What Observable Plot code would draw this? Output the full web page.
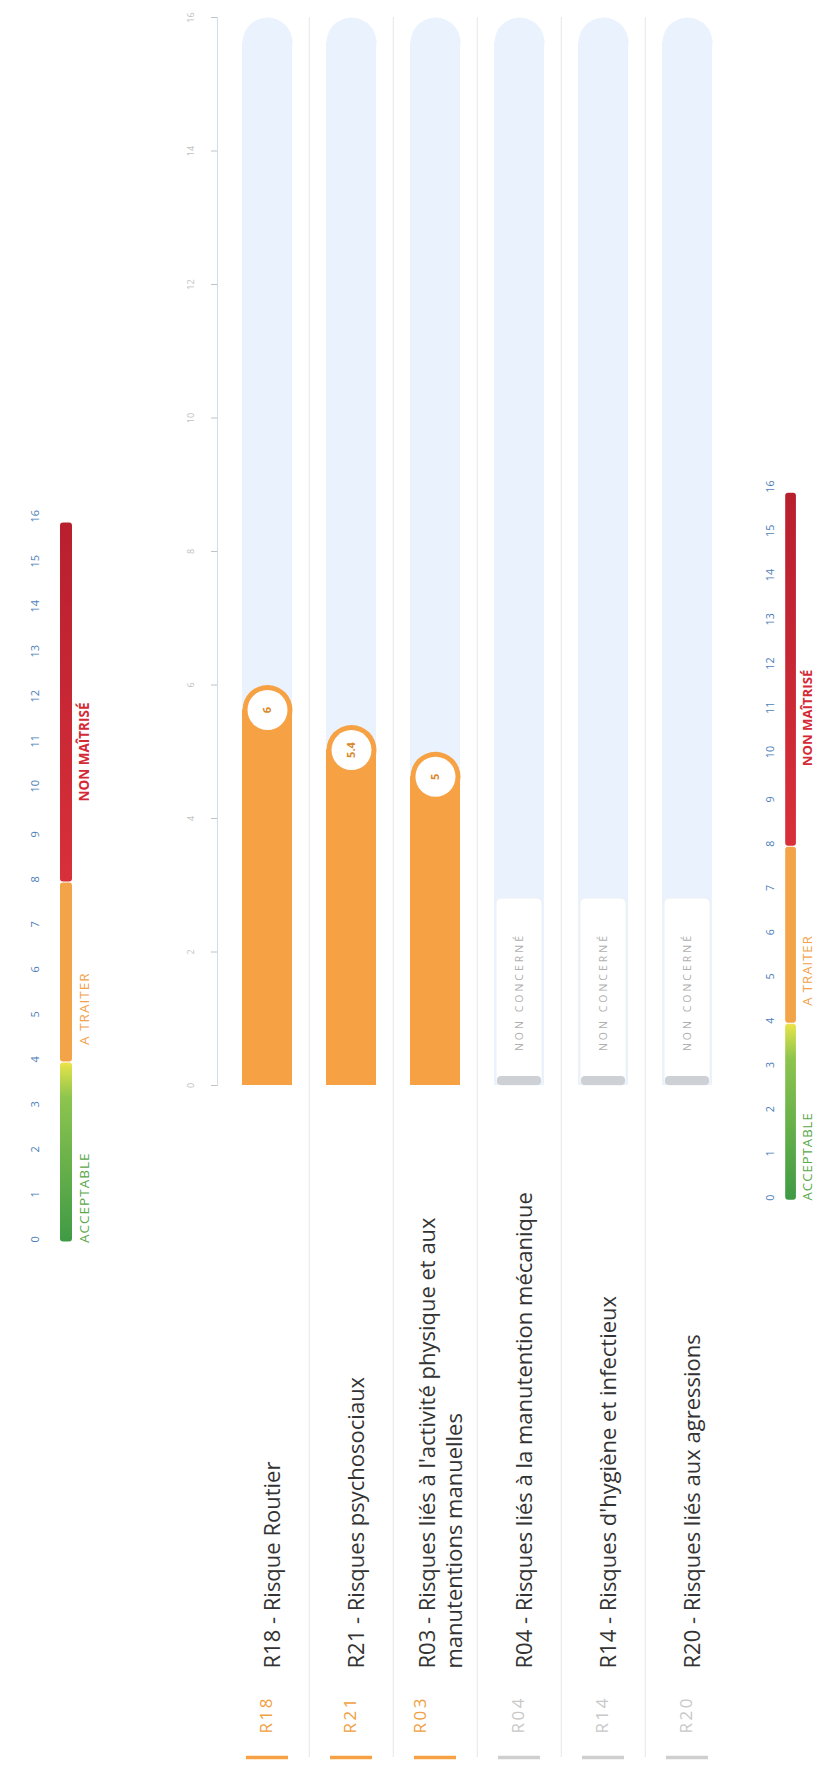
<!DOCTYPE html>
<html><head><meta charset="utf-8">
<script src="https://cdn.jsdelivr.net/npm/d3@7"></script>
<script src="https://cdn.jsdelivr.net/npm/@observablehq/plot@0.6"></script>
<style>
html,body{margin:0;padding:0;background:#fff;}
body{width:835px;height:1769px;position:relative;overflow:hidden;font-family:"Open Sans",sans-serif;}
.layer{position:absolute;left:0;top:0;}
</style></head><body>
<div id="main" class="layer"></div>
<div id="labels" class="layer" style="top:1085px"></div>
<div id="legL" class="layer"></div>
<div id="legR" class="layer"></div>
<script>
// ---- data ----
const codes = ["R18", "R21", "R03", "R04", "R14", "R20"];
const names = [
  "R18 - Risque Routier",
  "R21 - Risques psychosociaux",
  "R03 - Risques liés à l'activité physique et aux\nmanutentions manuelles",
  "R04 - Risques liés à la manutention mécanique",
  "R14 - Risques d'hygiène et infectieux",
  "R20 - Risques liés aux agressions"
];
const values = [6, 5.4, 5, null, null, null];
const valueLabels = ["6", "5.4", "5", "", "", ""];
const axisTicks = [0, 2, 4, 6, 8, 10, 12, 14, 16];
const axisMax = 16;
const legendTicks = [0,1,2,3,4,5,6,7,8,9,10,11,12,13,14,15,16];
const zoneFrom = [0, 4, 8];
const zoneTo = [4, 8, 16];
const zoneLabels = ["ACCEPTABLE", "A TRAITER", "NON MAÎTRISÉ"];
const nonConcerneLabel = "NON CONCERNÉ";
const ncBoxTop = 2.8;

// ---- styles ----
const ORANGE = "#f6a244";
const BG = "#eaf3fd";
const SEP = "#ebebeb";
const zoneColors = ["#5aa84a", "#f2a24a", "#d42a36"];
const zoneWeights = ["normal", "normal", "bold"];
const zoneFills = ["url(#gGreen)", "#f3a449", "url(#gRed)"];
const W = 835, H = 1769;
const xRange = [224, 730];
const step = (xRange[1] - xRange[0]) / codes.length;
const R = 25;
const FS = 22;      // category label font size
const LHt = 1.25;   // line height

const rows = codes.map((c, i) => ({
  code: c, name: names[i], value: values[i], vlabel: valueLabels[i],
  top: axisMax, ncTop: ncBoxTop, zero: 0,
  lines: names[i].split("\n").length, concerned: values[i] != null
}));
const yes = rows.filter(d => d.concerned);
const no = rows.filter(d => !d.concerned);
const padIn = 1 - 2 * R / step;
const xScale = {type: "band", domain: codes, range: xRange, paddingInner: padIn, paddingOuter: padIn / 2, axis: null};

const defsMark = () => {
  const g = document.createElementNS("http://www.w3.org/2000/svg", "defs");
  g.innerHTML = `
  <linearGradient id="gGreen" x1="0" y1="1" x2="0" y2="0">
    <stop offset="0" stop-color="#3f9a45"/><stop offset="0.8" stop-color="#8cc44e"/><stop offset="0.97" stop-color="#d9df4a"/><stop offset="1" stop-color="#f0e24a"/>
  </linearGradient>
  <linearGradient id="gRed" x1="0" y1="1" x2="0" y2="0">
    <stop offset="0" stop-color="#d8303a"/><stop offset="1" stop-color="#b81f2e"/>
  </linearGradient>`;
  return g;
};

// ---- main chart ----
const main = Plot.plot({
  width: W, height: H,
  marginTop: 17, marginBottom: H - 1085, marginLeft: 217, marginRight: W - xRange[1],
  style: {fontFamily: "Open Sans", background: "transparent"},
  x: xScale,
  y: {domain: [0, axisMax]},
  marks: [
    Plot.ruleX(codes.slice(1), {x: d => d, dx: -step / 2, stroke: SEP, strokeWidth: 1.2}),
    Plot.frame({anchor: "left", stroke: "#d4dce8"}),
    Plot.axisY({ticks: axisTicks, tickSize: 6, tickPadding: 18, tickRotate: -90, fontSize: 9, color: "#c2c2c2", tickFormat: d => String(d), label: null}),
    // background pills
    Plot.barY(rows, {x: "code", y: "top", fill: BG, insetTop: R}),
    Plot.dot(rows, {x: "code", y: "top", r: R, fill: BG, dy: R}),
    // non concerned
    Plot.barY(no, {x: "code", y: "ncTop", fill: "#ffffff", stroke: "#edf0f3", rx: 5, insetLeft: 2, insetRight: 2}),
    Plot.barY(no, {x: "code", y1: "zero", y2: "zero", insetTop: -9, insetLeft: 3, insetRight: 3, rx: 4, fill: "#cdd0d5"}),
    Plot.text(no, {x: "code", y: d => d.ncTop / 2, text: () => nonConcerneLabel, rotate: -90, fill: "#b0b0b0", fontSize: 10.5}),
    // concerned bars (pill: bar + cap)
    Plot.barY(yes, {x: "code", y: "value", fill: ORANGE, insetTop: R}),
    Plot.dot(yes, {x: "code", y: "value", r: R, fill: ORANGE, dy: R}),
    Plot.dot(yes, {x: "code", y: "value", r: R - 5, fill: "#ffffff", dy: R}),
    Plot.text(yes, {x: "code", y: "value", dy: R, text: "vlabel", rotate: -90, fill: "#d9892c", fontSize: 11, fontWeight: "bold"})
  ]
});
d3.select(main).selectAll("text").filter(function(){ return this.textContent === nonConcerneLabel; }).attr("letter-spacing", "3");
document.getElementById("main").appendChild(main);

// ---- category labels ----
const LH = 684;
const labels = Plot.plot({
  width: W, height: LH,
  marginTop: 0, marginBottom: 12, marginLeft: 217, marginRight: W - xRange[1],
  style: {fontFamily: "Open Sans", background: "transparent"},
  x: xScale,
  y: {domain: [0, 1], axis: null},
  marks: [
    Plot.ruleX(codes.slice(1), {x: d => d, dx: -step / 2, stroke: SEP, strokeWidth: 1.2}),
    Plot.tickY(rows, {x: "code", y: "zero", stroke: d => d.concerned ? ORANGE : "#cfcfcf", strokeWidth: 3.5, insetLeft: 4, insetRight: 4}),
    Plot.text(rows.filter(d => d.lines === 1), {x: "code", text: "code", frameAnchor: "bottom", dy: -24, dx: 4, rotate: -90, textAnchor: "start", fill: d => d.concerned ? "#f0a040" : "#c8c8c8", fontSize: 17}),
    Plot.text(rows.filter(d => d.lines === 2), {x: "code", text: "code", frameAnchor: "bottom", dy: -24, dx: 4 - FS * LHt / 2, rotate: -90, textAnchor: "start", fill: d => d.concerned ? "#f0a040" : "#c8c8c8", fontSize: 17}),
    Plot.text(rows, {x: "code", text: "name", frameAnchor: "bottom", dy: -89, dx: 4, rotate: -90, textAnchor: "start", lineAnchor: "middle", lineHeight: LHt, fill: "#333333", fontSize: FS})
  ],
  color: {type: "identity"}
});
d3.select(labels).selectAll("text").filter(function(){ return codes.includes(this.textContent); }).attr("letter-spacing", "2.5");
document.getElementById("labels").appendChild(labels);

// ---- legends ----
const zones = zoneFrom.map((f, i) => ({from: f, to: zoneTo[i], label: zoneLabels[i], color: zoneColors[i], weight: zoneWeights[i], fill: zoneFills[i], mid: (f + zoneTo[i]) / 2}));
function legend(barX, barW, yBottom, yTop, numDx, labelDx) {
  const p = Plot.plot({
    width: barX + barW + 40, height: H,
    marginTop: yTop, marginBottom: H - yBottom, marginLeft: barX, marginRight: 40,
    style: {fontFamily: "Open Sans", background: "transparent", overflow: "visible"},
    y: {domain: [0, 16], axis: null},
    color: {type: "identity"},
    marks: [
      defsMark,
      Plot.barY(zones, {y1: "from", y2: "to", fill: "fill", insetTop: 0.5, insetBottom: 0.5, rx: 3}),
      Plot.text(legendTicks, {y: d => d, text: d => String(d), frameAnchor: "left", dx: numDx, rotate: -90, fill: "#4d7eb8", fontSize: 11}),
      Plot.text(zones.filter(z => z.weight === "bold"), {y: "mid", text: "label", frameAnchor: "right", dx: labelDx, rotate: -90, fill: "color", fontSize: 13.5, fontWeight: "bold"}),
      Plot.text(zones.filter(z => z.weight !== "bold"), {y: "mid", text: "label", frameAnchor: "right", dx: labelDx, rotate: -90, fill: "color", fontSize: 13.5})
    ]
  });
  d3.select(p).selectAll("text").filter(function(){ return this.textContent === "ACCEPTABLE" || this.textContent === "A TRAITER"; }).attr("letter-spacing", "1");
  return p;
}
const legL = legend(60, 12, 1242, 522, -25, 12);
const legR = legend(804, 11, 1229, 504, -16, 12);
document.getElementById("legL").appendChild(legL);
document.getElementById("legR").appendChild(legR);
</script>
</body></html>
